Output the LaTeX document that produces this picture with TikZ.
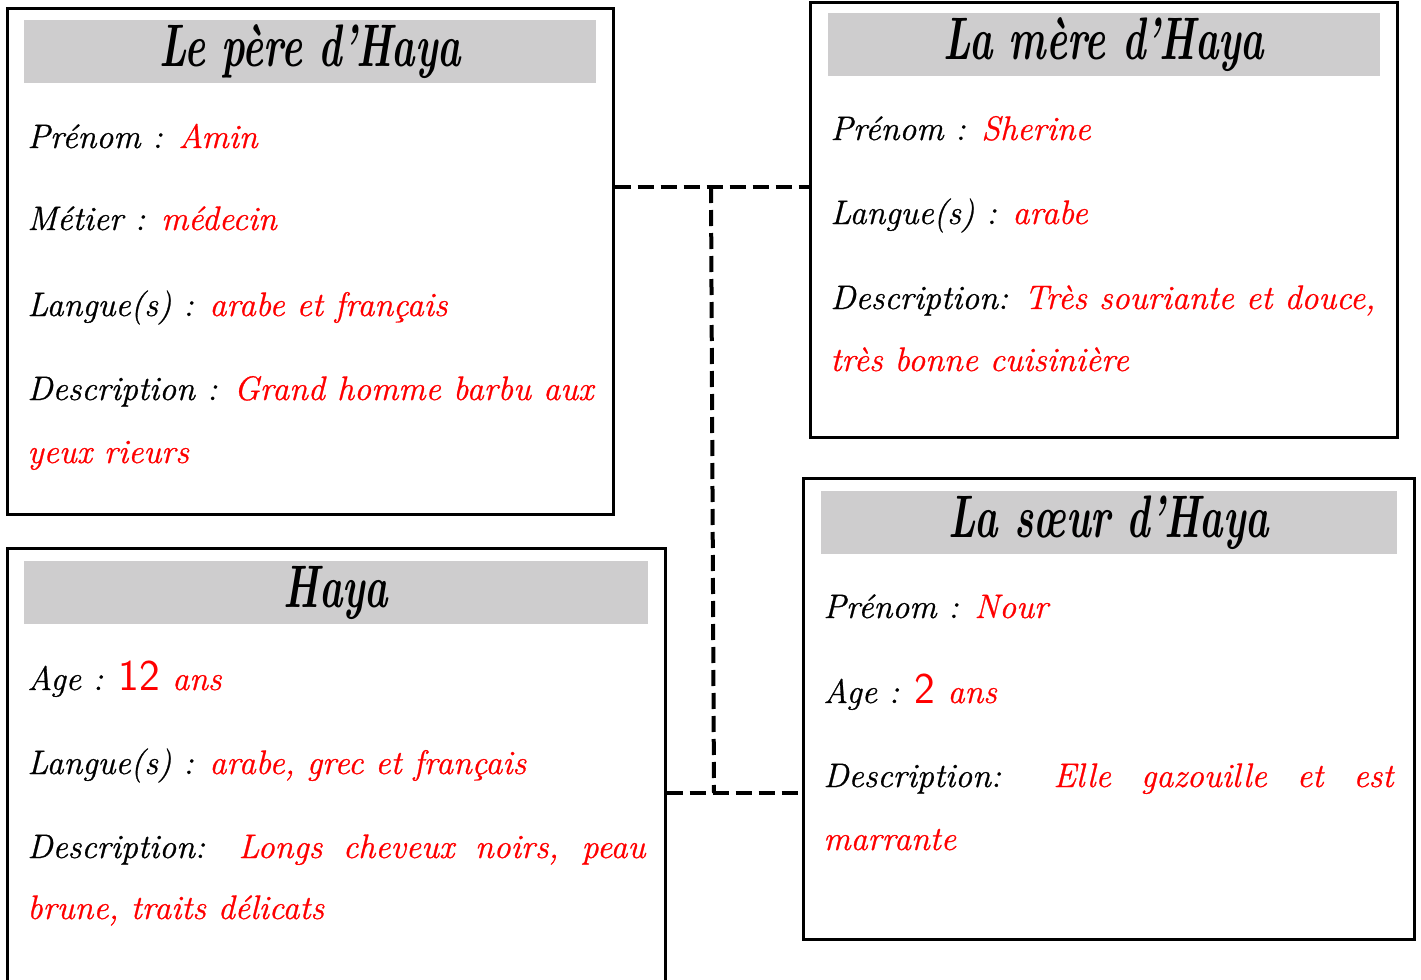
\documentclass[tikz,border=0pt]{standalone}
\usepackage{fontspec}
\usepackage{graphicx}
\usetikzlibrary{positioning, calc}
\newfontfamily\handfont{Latin Modern Roman}[FakeBold=0.8]
\definecolor{headgray}{RGB}{206,205,206}
\definecolor{valred}{RGB}{255,0,0}
\newcommand{\cardtitle}[1]{\scalebox{0.66}[1]{\fontsize{30}{34}\selectfont\bfseries\itshape #1}}
\newcommand{\val}[1]{\textcolor{valred}{#1}}
\newcommand{\num}[1]{{\fontsize{22}{24}\selectfont\upshape\sffamily #1}}

\begin{document}
\begin{tikzpicture}[
        x=0.5pt, y=-0.5pt,
        card/.style={rectangle, draw, line width=1.5pt, inner sep=0pt},
        header/.style={rectangle, fill=headgray, inner sep=0pt, minimum height=31.5pt},
        field/.style={anchor=base west, inner sep=0pt, font=\fontsize{17}{20}\handfont\itshape},
        link/.style={line width=2pt, dash pattern=on 8pt off 3.5pt}
    ]
        \useasboundingbox (0,0) rectangle (1421,980);
        \clip (0,0) rectangle (1421,980);

        % Father
        \node[card, minimum width=303pt, minimum height=253pt] (pere) at (310,261) {};
        \node[header, minimum width=286pt] (pereh) at (310,51.5) {\cardtitle{Le père d’Haya}};
        \node[field] (pere1) at (27,148) {Prénom : \val{Amin}};
        \node[field] (pere2) at (27,230) {Métier : \val{médecin}};
        \node[field] (pere3) at (27,316) {Langue(s) : \val{arabe et français}};
        \node[field] (pere4) at (27,400) {\makebox[283pt][s]{Description : \val{Grand homme barbu aux}}};
        \node[field] (pere5) at (27,463) {\val{yeux rieurs}};

        % Mother
        \node[card, minimum width=293.5pt, minimum height=217.5pt] (mere) at (1103.5,219.5) {};
        \node[header, minimum width=276pt] (mereh) at (1104,44.5) {\cardtitle{La mère d’Haya}};
        \node[field] (mere1) at (830,140) {Prénom : \val{Sherine}};
        \node[field] (mere2) at (830,224) {Langue(s) : \val{arabe}};
        \node[field] (mere3) at (830,309) {\makebox[272.5pt][s]{Description: \val{Très souriante et douce,}}};
        \node[field] (mere4) at (830,371) {\val{très bonne cuisinière}};

        % Haya
        \node[card, minimum width=329pt, minimum height=226pt] (haya) at (336,774) {};
        \node[header, minimum width=312pt] (hayah) at (336,592.5) {\cardtitle{Haya}};
        \node[field] (haya1) at (27,690) {Age : \val{\num{12} ans}};
        \node[field] (haya2) at (27,774) {Langue(s) : \val{arabe, grec et français}};
        \node[field] (haya3) at (27,858) {\makebox[309pt][s]{Description: \val{Longs cheveux noirs, peau}}};
        \node[field] (haya4) at (27,919) {\val{brune, traits délicats}};

        % Sister
        \node[card, minimum width=305.5pt, minimum height=230.5pt] (soeur) at (1108.5,708.5) {};
        \node[header, minimum width=288pt] (soeurh) at (1109,522.5) {\cardtitle{La sœur d’Haya}};
        \node[field] (soeur1) at (823,618) {Prénom : \val{Nour}};
        \node[field] (soeur2) at (823,703) {Age : \val{\num{2} ans}};
        \node[field] (soeur3) at (823,787) {\makebox[285pt][s]{Description: \val{Elle gazouille et est}}};
        \node[field] (soeur4) at (823,850) {\val{marrante}};

        % Links
        \coordinate (jtop) at (711,187);
        \coordinate (jbot) at (714,793);
        \draw[link] (pere.east |- jtop) -- (mere.west |- jtop);
        \draw[link] (jtop) -- (jbot);
        \draw[link] (haya.east |- jbot) -- (soeur.west |- jbot);
    \end{tikzpicture}
\end{document}
